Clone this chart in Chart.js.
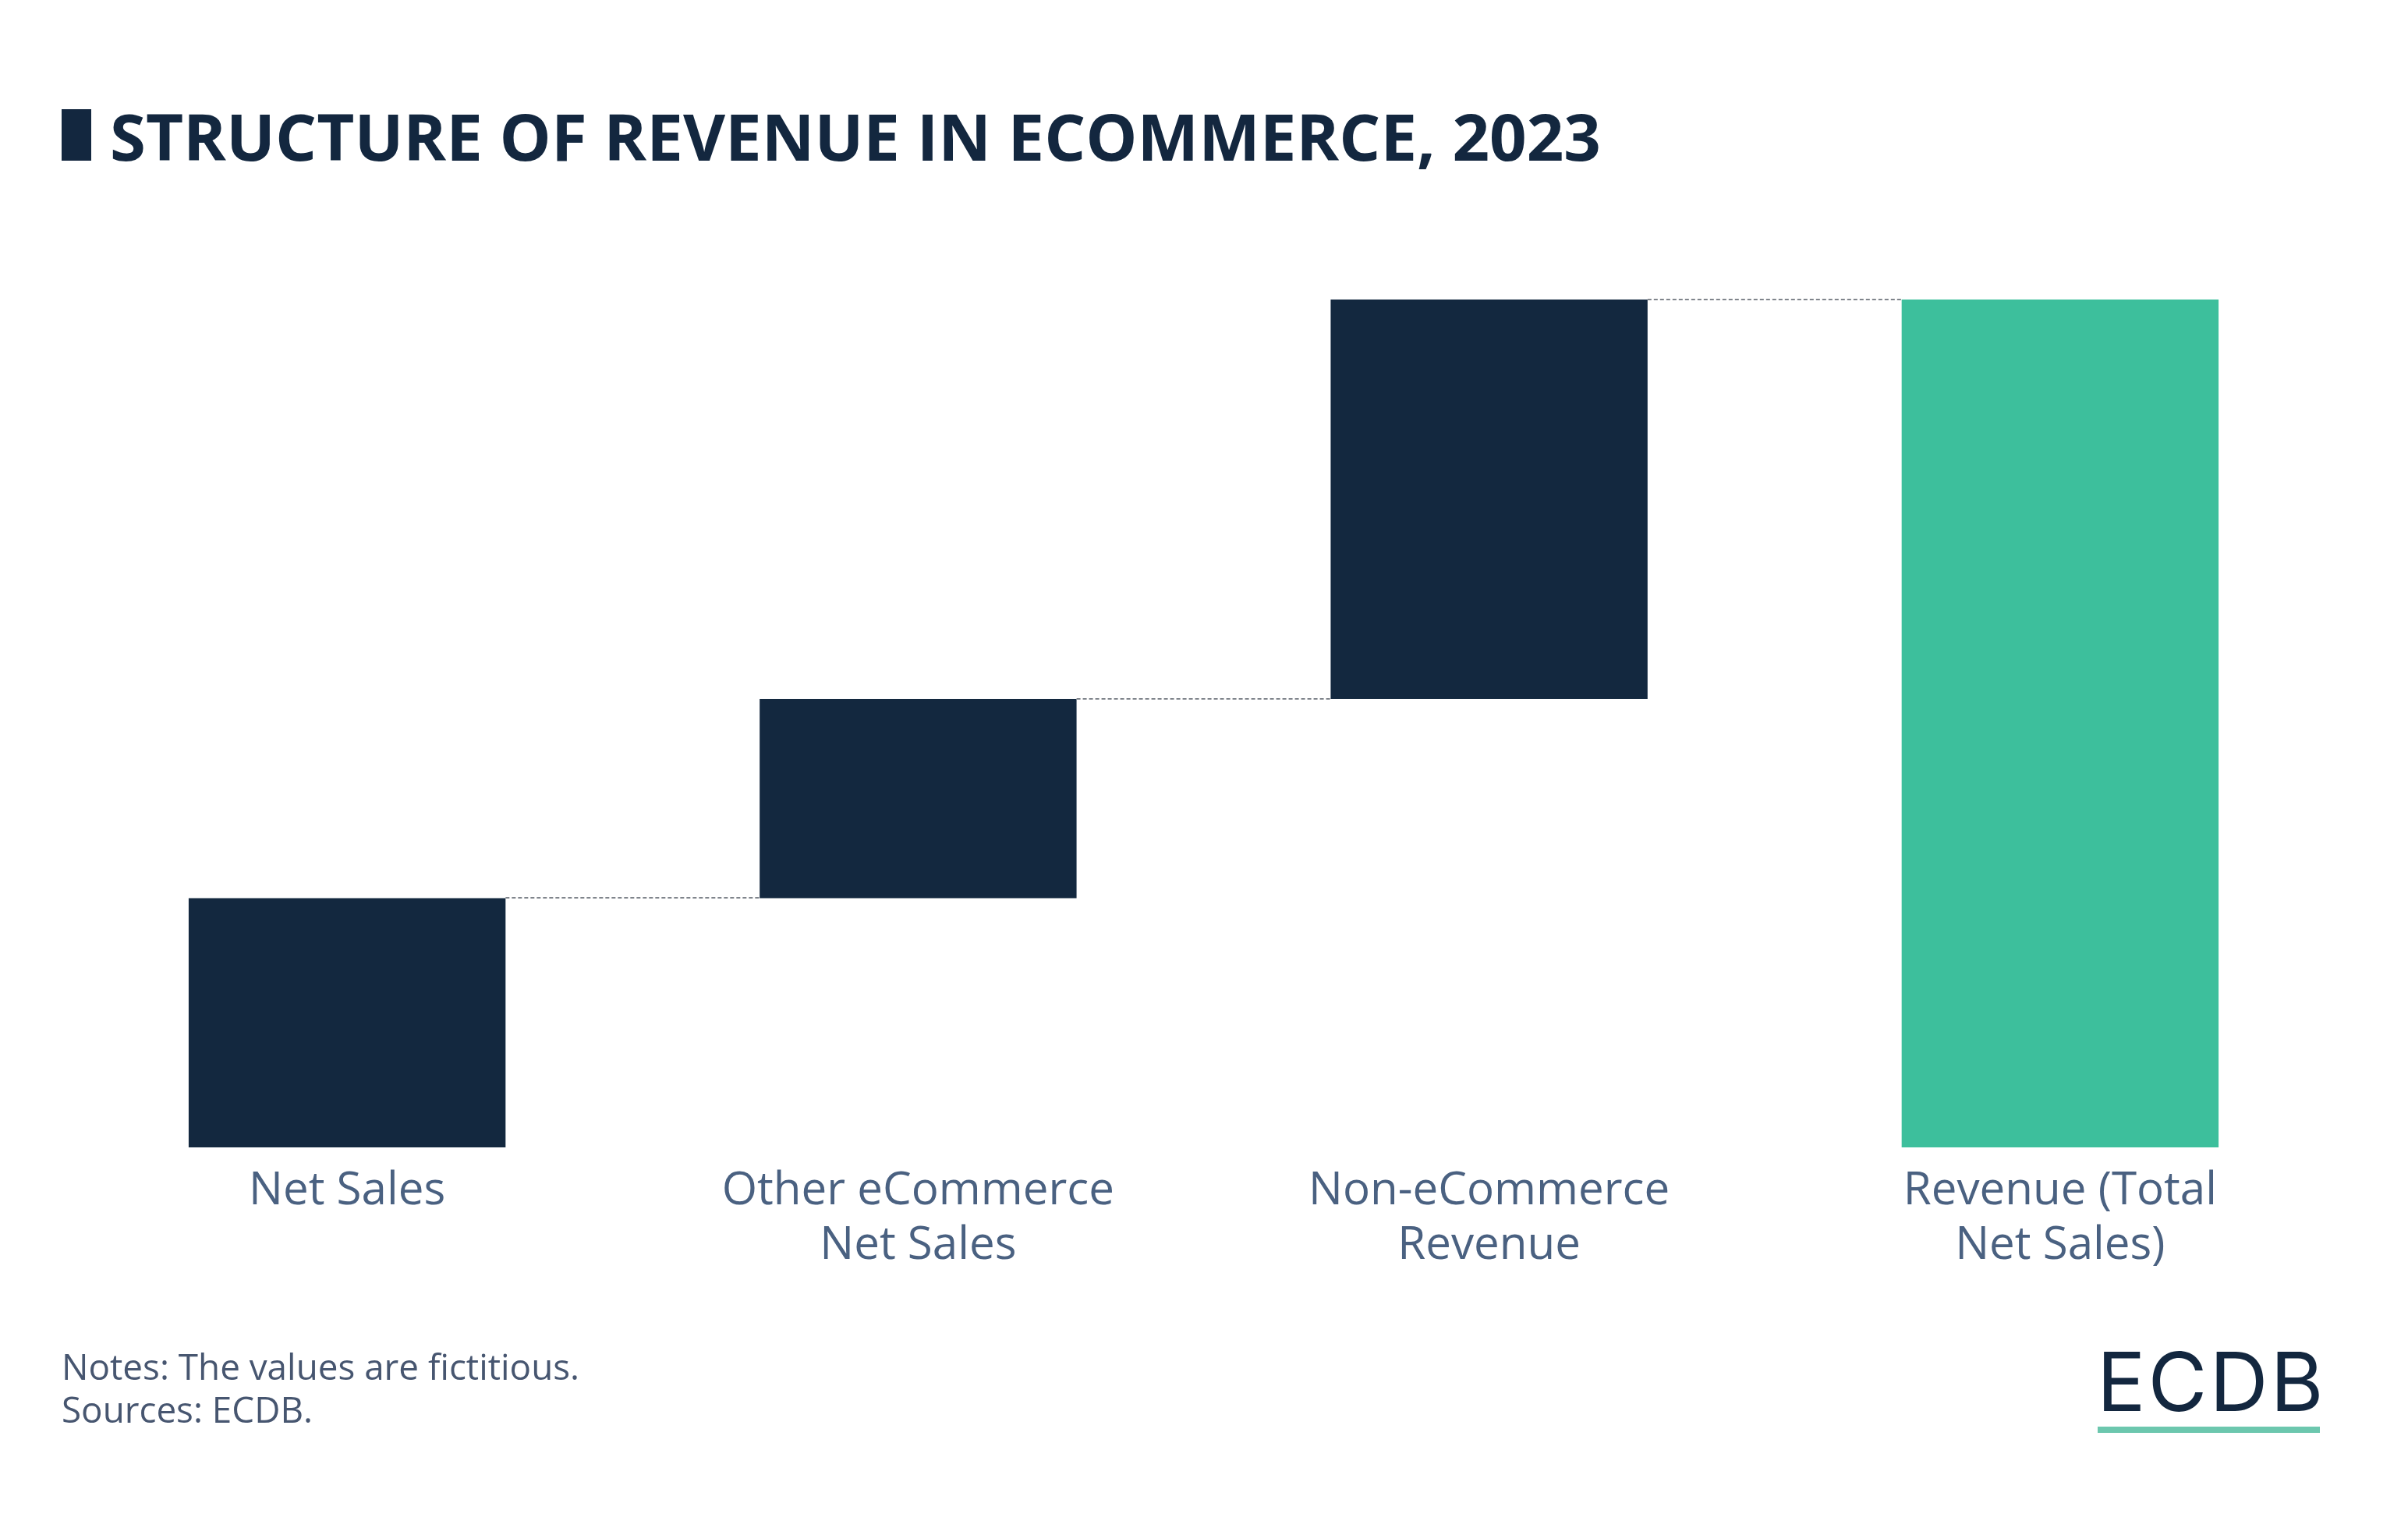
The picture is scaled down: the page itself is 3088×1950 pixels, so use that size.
<!DOCTYPE html>
<html>
<head>
<meta charset="utf-8">
<script src="https://cdn.jsdelivr.net/npm/chart.js@4.4.1/dist/chart.umd.min.js"></script>
<style>
  html, body { margin: 0; padding: 0; background: #ffffff; }
  body { width: 3088px; height: 1950px; position: relative; overflow: hidden; font-family: "Open Sans", "Noto Sans", sans-serif; }
  #wrap { position: absolute; left: 0; top: 0; width: 3088px; height: 1950px; }
  #title { position: absolute; left: 79px; top: 127px; height: 92px; display: flex; align-items: center; }
  #title .mark { width: 38px; height: 66px; background: #13273f; margin-right: 24px; }
  #title .txt { font-family: "Open Sans"; font-weight: 700; font-size: 83.3px; color: #13273f; white-space: nowrap; }
  #notes { position: absolute; left: 79px; top: 1724px; font-family: "Open Sans"; font-size: 45.8px; line-height: 55px; color: #475670; }
  #logo { position: absolute; left: 2689px; top: 1719px; width: 286px; }
  #logo .t { font-family: "Inter"; font-weight: 400; font-size: 104px; line-height: 104px; color: #13273f; letter-spacing: 3px; white-space: nowrap; }
  #logo .u { position: absolute; left: 1px; top: 110px; width: 285px; height: 8px; background: #6cc7ae; }
</style>
</head>
<body>
<div id="wrap"><canvas id="c" width="3088" height="1950"></canvas></div>
<div id="title"><div class="mark"></div><div class="txt">STRUCTURE OF REVENUE IN ECOMMERCE, 2023</div></div>
<div id="notes">Notes: The values are fictitious.<br>Sources: ECDB.</div>
<div id="logo"><div class="t">ECDB</div><div class="u"></div></div>
<script>
// ---- data ----
const categories = [["Net Sales"], ["Other eCommerce", "Net Sales"], ["Non-eCommerce", "Revenue"], ["Revenue (Total", "Net Sales)"]];
const stepValues = [29.4, 23.5, 47.1];          // contributions (fictitious)
const barColors = ["#13283f", "#13283f", "#13283f", "#3dbf9c"];

// build floating ranges from the contributions; last bar is the total
const ranges = [];
let run = 0;
stepValues.forEach(v => { ranges.push([run, run + v]); run += v; });
ranges.push([0, run]);

const connectorPlugin = {
  id: 'connectors',
  afterDatasetsDraw(chart) {
    const ctx = chart.ctx;
    const meta = chart.getDatasetMeta(0);
    const y = chart.scales.y;
    ctx.save();
    ctx.strokeStyle = '#80858c';
    ctx.lineWidth = 2;
    ctx.setLineDash([5, 3]);
    for (let i = 0; i < ranges.length - 1; i++) {
      const a = meta.data[i], b = meta.data[i + 1];
      const level = ranges[i][1];
      const py = Math.round(y.getPixelForValue(level));
      ctx.beginPath();
      ctx.moveTo(a.x + a.width / 2, py);
      ctx.lineTo(b.x - b.width / 2, py);
      ctx.stroke();
    }
    ctx.restore();
  }
};

new Chart(document.getElementById('c'), {
  type: 'bar',
  data: {
    labels: categories,
    datasets: [{
      data: ranges,
      backgroundColor: barColors,
      borderWidth: 0,
      borderSkipped: false,
      categoryPercentage: 1,
      barPercentage: 0.555
    }]
  },
  options: {
    responsive: false,
    animation: false,
    devicePixelRatio: 1,
    layout: { padding: { left: 79, right: 80, top: 384, bottom: 279 } },
    plugins: { legend: { display: false }, tooltip: { enabled: false }, title: { display: false } },
    scales: {
      x: {
        grid: { display: false, drawTicks: false },
        border: { display: false },
        ticks: {
          color: '#4a6181',
          font: { family: 'Open Sans', size: 58.3, lineHeight: 1.19 },
          padding: 22,
          maxRotation: 0,
          autoSkip: false
        },
        afterFit(scale) { scale.height = 200; }
      },
      y: { display: false, min: 0, max: 100 }
    }
  },
  plugins: [connectorPlugin]
});
</script>
</body>
</html>
